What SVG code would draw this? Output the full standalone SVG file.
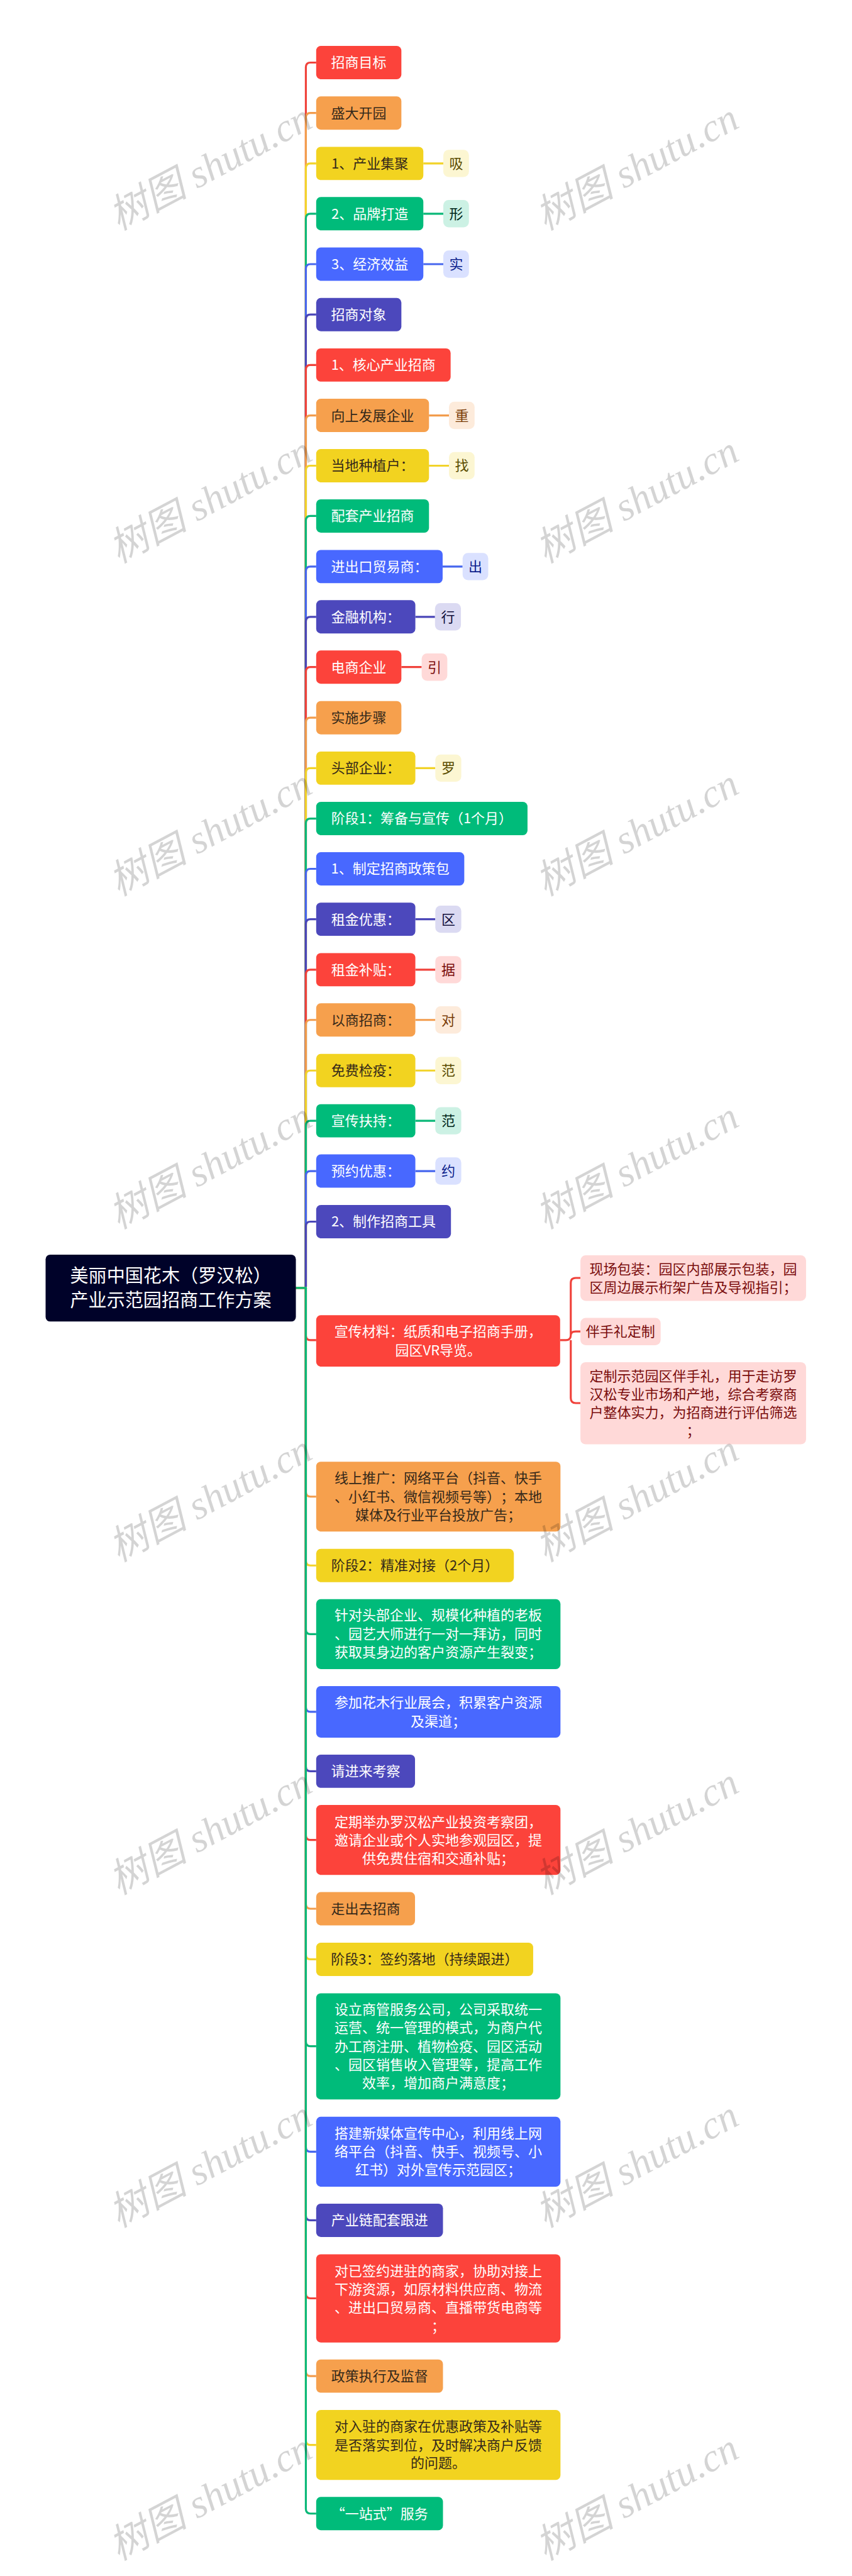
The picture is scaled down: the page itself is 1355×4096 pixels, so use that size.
<svg xmlns="http://www.w3.org/2000/svg" width="1355" height="4096" viewBox="0 0 1355 4096">
<style>
text{font-family:"Noto Sans CJK SC","Noto Sans",sans-serif;font-size:41.6px;text-anchor:middle;text-spacing-trim:space-all}
.con{fill:none;stroke-width:6}
.r{fill:#FC433B}.o{fill:#F6A04D}.y{fill:#F2D320}.g{fill:#00BB7A}.b{fill:#4868FF}.i{fill:#4C48BC}
.sr{stroke:#F0423B}.so{stroke:#F29C4C}.sy{stroke:#F2D32A}.sg{stroke:#0AB878}.sb{stroke:#4666EE}.si{stroke:#4A46B8}
.tw{fill:#fff}.td{fill:#35291a}
.tr{fill:#FFD9D8}.to{fill:#FDEBDB}.ty{fill:#FCF6D2}.tg{fill:#CCF1E4}.tb{fill:#DAE1FF}.ti{fill:#DBDAF2}
.lr{fill:#7a0c0c}.lo{fill:#7a3c08}.ly{fill:#5a4c00}.lg{fill:#00281a}.lb{fill:#0c1f8c}.li{fill:#12103c}
.wm{font-family:"Liberation Serif","Noto Sans CJK SC",serif;font-style:italic;font-size:119px;text-anchor:end;fill:#000;fill-opacity:.17}
.fw{font-feature-settings:"fwid"}
</style>
<rect width="1355" height="4096" fill="#fff"/>
<g transform="scale(0.529297)">
<g id="connectors">
<path class="con sr" d="M889 3869H919V202Q919 188 933 188H950"/>
<path class="con so" d="M889 3869H919V353.5Q919 339.5 933 339.5H950"/>
<path class="con sy" d="M889 3869H919V505Q919 491 933 491H950M1272 491H1332"/>
<path class="con sg" d="M889 3869H919V656Q919 642 933 642H950M1272 642H1332"/>
<path class="con sb" d="M889 3869H919V807.5Q919 793.5 933 793.5H950M1272 793.5H1332"/>
<path class="con si" d="M889 3869H919V959Q919 945 933 945H950"/>
<path class="con sr" d="M889 3869H919V1110.5Q919 1096.5 933 1096.5H950"/>
<path class="con so" d="M889 3869H919V1262Q919 1248 933 1248H950M1289 1248H1349"/>
<path class="con sy" d="M889 3869H919V1413Q919 1399 933 1399H950M1289 1399H1349"/>
<path class="con sg" d="M889 3869H919V1564Q919 1550 933 1550H950"/>
<path class="con sb" d="M889 3869H919V1716Q919 1702 933 1702H950M1330 1702H1390"/>
<path class="con si" d="M889 3869H919V1867Q919 1853 933 1853H950M1248 1853H1307"/>
<path class="con sr" d="M889 3869H919V2018Q919 2004 933 2004H950M1206 2004H1267"/>
<path class="con so" d="M889 3869H919V2170Q919 2156 933 2156H950"/>
<path class="con sy" d="M889 3869H919V2321.5Q919 2307.5 933 2307.5H950M1248 2307.5H1308"/>
<path class="con sg" d="M889 3869H919V2473Q919 2459 933 2459H950"/>
<path class="con sb" d="M889 3869H919V2624Q919 2610 933 2610H950"/>
<path class="con si" d="M889 3869H919V2775.5Q919 2761.5 933 2761.5H950M1248 2761.5H1308"/>
<path class="con sr" d="M889 3869H919V2927Q919 2913 933 2913H950M1248 2913H1308"/>
<path class="con so" d="M889 3869H919V3078Q919 3064 933 3064H950M1248 3064H1308"/>
<path class="con sy" d="M889 3869H919V3230Q919 3216 933 3216H950M1248 3216H1308"/>
<path class="con sg" d="M889 3869H919V3381Q919 3367 933 3367H950M1248 3367H1308"/>
<path class="con sb" d="M889 3869H919V3532Q919 3518 933 3518H950M1248 3518H1308"/>
<path class="con si" d="M889 3869H919V3684Q919 3670 933 3670H950"/>
<path class="con sr" d="M889 3869H919V4012Q919 4026 933 4026H950"/>
<path class="con sr" d="M1683 4026H1700Q1715 4026 1715 4011V3854Q1715 3839 1730 3839H1744M1715 4011Q1715 4000 1730 4000H1744M1715 4026V4200Q1715 4215 1730 4215H1744"/>
<path class="con so" d="M889 3869H919V4482Q919 4496 933 4496H950"/>
<path class="con sy" d="M889 3869H919V4689Q919 4703 933 4703H950"/>
<path class="con sg" d="M889 3869H919V4895Q919 4909 933 4909H950"/>
<path class="con sb" d="M889 3869H919V5128.5Q919 5142.5 933 5142.5H950"/>
<path class="con si" d="M889 3869H919V5307Q919 5321 933 5321H950"/>
<path class="con sr" d="M889 3869H919V5513.5Q919 5527.5 933 5527.5H950"/>
<path class="con so" d="M889 3869H919V5720Q919 5734 933 5734H950"/>
<path class="con sy" d="M889 3869H919V5872Q919 5886 933 5886H950"/>
<path class="con sg" d="M889 3869H919V6133Q919 6147 933 6147H950"/>
<path class="con sb" d="M889 3869H919V6450Q919 6464 933 6464H950"/>
<path class="con si" d="M889 3869H919V6656Q919 6670 933 6670H950"/>
<path class="con sr" d="M889 3869H919V6890.5Q919 6904.5 933 6904.5H950"/>
<path class="con so" d="M889 3869H919V7124Q919 7138 933 7138H950"/>
<path class="con sy" d="M889 3869H919V7331Q919 7345 933 7345H950"/>
<path class="con sg" d="M889 3869H919V7537Q919 7551 933 7551H950"/>
</g>
<g id="root"><rect x="137" y="3769" width="752" height="201" rx="14" fill="#000229"/><text x="513" y="3853" class="tw" style="font-size:55px">美丽中国花木（罗汉松）</text><text x="513" y="3926" class="tw" style="font-size:55px">产业示范园招商工作方案</text></g>
<g id="n0"><rect class="r" x="950" y="138" width="256" height="100" rx="14"/><text class="tw" x="1078" y="203">招商目标</text></g>
<g id="n1"><rect class="o" x="950" y="289.500" width="256" height="100" rx="14"/><text class="td" x="1078" y="354.500">盛大开园</text></g>
<g id="n2"><rect class="y" x="950" y="441" width="322" height="100" rx="14"/><text class="td" x="1111" y="506">1、产业集聚</text><rect class="ty" x="1332" y="450" width="77" height="82" rx="16"/><text class="ly" x="1370.500" y="506">吸</text></g>
<g id="n3"><rect class="g" x="950" y="592" width="322" height="100" rx="14"/><text class="tw" x="1111" y="657">2、品牌打造</text><rect class="tg" x="1332" y="601" width="77" height="82" rx="16"/><text class="lg" x="1370.500" y="657">形</text></g>
<g id="n4"><rect class="b" x="950" y="743.500" width="322" height="100" rx="14"/><text class="tw" x="1111" y="808.500">3、经济效益</text><rect class="tb" x="1332" y="752.500" width="77" height="82" rx="16"/><text class="lb" x="1370.500" y="808.500">实</text></g>
<g id="n5"><rect class="i" x="950" y="895" width="256" height="100" rx="14"/><text class="tw" x="1078" y="960">招商对象</text></g>
<g id="n6"><rect class="r" x="950" y="1046.500" width="404" height="100" rx="14"/><text class="tw" x="1152" y="1111.500">1、核心产业招商</text></g>
<g id="n7"><rect class="o" x="950" y="1198" width="339" height="100" rx="14"/><text class="td" x="1119.500" y="1263">向上发展企业</text><rect class="to" x="1349" y="1207" width="77" height="82" rx="16"/><text class="lo" x="1387.500" y="1263">重</text></g>
<g id="n8"><rect class="y" x="950" y="1349" width="339" height="100" rx="14"/><text class="td" x="1119.500" y="1414">当地种植户：</text><rect class="ty" x="1349" y="1358" width="77" height="82" rx="16"/><text class="ly" x="1387.500" y="1414">找</text></g>
<g id="n9"><rect class="g" x="950" y="1500" width="339" height="100" rx="14"/><text class="tw" x="1119.500" y="1565">配套产业招商</text></g>
<g id="n10"><rect class="b" x="950" y="1652" width="380" height="100" rx="14"/><text class="tw" x="1140" y="1717">进出口贸易商：</text><rect class="tb" x="1390" y="1661" width="77" height="82" rx="16"/><text class="lb" x="1428.500" y="1717">出</text></g>
<g id="n11"><rect class="i" x="950" y="1803" width="298" height="100" rx="14"/><text class="tw" x="1099" y="1868">金融机构：</text><rect class="ti" x="1307" y="1812" width="78" height="82" rx="16"/><text class="li" x="1346" y="1868">行</text></g>
<g id="n12"><rect class="r" x="950" y="1954" width="256" height="100" rx="14"/><text class="tw" x="1078" y="2019">电商企业</text><rect class="tr" x="1267" y="1963" width="77" height="82" rx="16"/><text class="lr" x="1305.500" y="2019">引</text></g>
<g id="n13"><rect class="o" x="950" y="2106" width="256" height="100" rx="14"/><text class="td" x="1078" y="2171">实施步骤</text></g>
<g id="n14"><rect class="y" x="950" y="2257.500" width="298" height="100" rx="14"/><text class="td" x="1099" y="2322.500">头部企业：</text><rect class="ty" x="1308" y="2266.500" width="78" height="82" rx="16"/><text class="ly" x="1347" y="2322.500">罗</text></g>
<g id="n15"><rect class="g" x="950" y="2409" width="635" height="100" rx="14"/><text class="tw" x="1267.500" y="2474">阶段1：筹备与宣传（1个月）</text></g>
<g id="n16"><rect class="b" x="950" y="2560" width="445" height="100" rx="14"/><text class="tw" x="1172.500" y="2625">1、制定招商政策包</text></g>
<g id="n17"><rect class="i" x="950" y="2711.500" width="298" height="100" rx="14"/><text class="tw" x="1099" y="2776.500">租金优惠：</text><rect class="ti" x="1308" y="2720.500" width="78" height="82" rx="16"/><text class="li" x="1347" y="2776.500">区</text></g>
<g id="n18"><rect class="r" x="950" y="2863" width="298" height="100" rx="14"/><text class="tw" x="1099" y="2928">租金补贴：</text><rect class="tr" x="1308" y="2872" width="78" height="82" rx="16"/><text class="lr" x="1347" y="2928">据</text></g>
<g id="n19"><rect class="o" x="950" y="3014" width="298" height="100" rx="14"/><text class="td" x="1099" y="3079">以商招商：</text><rect class="to" x="1308" y="3023" width="78" height="82" rx="16"/><text class="lo" x="1347" y="3079">对</text></g>
<g id="n20"><rect class="y" x="950" y="3166" width="298" height="100" rx="14"/><text class="td" x="1099" y="3231">免费检疫：</text><rect class="ty" x="1308" y="3175" width="78" height="82" rx="16"/><text class="ly" x="1347" y="3231">范</text></g>
<g id="n21"><rect class="g" x="950" y="3317" width="298" height="100" rx="14"/><text class="tw" x="1099" y="3382">宣传扶持：</text><rect class="tg" x="1308" y="3326" width="78" height="82" rx="16"/><text class="lg" x="1347" y="3382">范</text></g>
<g id="n22"><rect class="b" x="950" y="3468" width="298" height="100" rx="14"/><text class="tw" x="1099" y="3533">预约优惠：</text><rect class="tb" x="1308" y="3477" width="78" height="82" rx="16"/><text class="lb" x="1347" y="3533">约</text></g>
<g id="n23"><rect class="i" x="950" y="3620" width="405" height="100" rx="14"/><text class="tw" x="1152.500" y="3685">2、制作招商工具</text></g>
<g id="n24"><rect class="r" x="950" y="3951" width="733" height="154.500" rx="14"/><text class="tw" x="1316.500" y="4015.500">宣传材料：纸质和电子招商手册，</text><text class="tw" x="1316.500" y="4071">园区VR导览。</text></g>
<g id="c1"><rect class="tr" x="1744" y="3771" width="678" height="137" rx="16"/><text class="lr" x="2083" y="3827">现场包装：园区内部展示包装，园</text><text class="lr" x="2083" y="3882">区周边展示桁架广告及导视指引；</text></g>
<g id="c2"><rect class="tr" x="1744" y="3959" width="241" height="82" rx="16"/><text class="lr" x="1864.500" y="4015">伴手礼定制</text></g>
<g id="c3"><rect class="tr" x="1744" y="4092" width="678" height="247" rx="16"/><text class="lr" x="2083" y="4148">定制示范园区伴手礼，用于走访罗</text><text class="lr" x="2083" y="4203">汉松专业市场和产地，综合考察商</text><text class="lr" x="2083" y="4258">户整体实力，为招商进行评估筛选</text><text class="lr" x="2083" y="4313">；</text></g>
<g id="n25"><rect class="o" x="950" y="4391" width="734" height="210" rx="14"/><text class="td" x="1317" y="4455.500">线上推广：网络平台（抖音、快手</text><text class="td" x="1317" y="4511">、小红书、微信视频号等）；本地</text><text class="td" x="1317" y="4566.500">媒体及行业平台投放广告；</text></g>
<g id="n26"><rect class="y" x="950" y="4653" width="594" height="100" rx="14"/><text class="td" x="1247" y="4718">阶段2：精准对接（2个月）</text></g>
<g id="n27"><rect class="g" x="950" y="4804" width="734" height="210" rx="14"/><text class="tw" x="1317" y="4867.500">针对头部企业、规模化种植的老板</text><text class="tw" x="1317" y="4923">、园艺大师进行一对一拜访，同时</text><text class="tw" x="1317" y="4978.500">获取其身边的客户资源产生裂变；</text></g>
<g id="n28"><rect class="b" x="950" y="5065" width="734" height="155" rx="14"/><text class="tw" x="1317" y="5130">参加花木行业展会，积累客户资源</text><text class="tw" x="1317" y="5185.500">及渠道；</text></g>
<g id="n29"><rect class="i" x="950" y="5271" width="297" height="100" rx="14"/><text class="tw" x="1098.500" y="5336">请进来考察</text></g>
<g id="n30"><rect class="r" x="950" y="5422.500" width="734" height="210" rx="14"/><text class="tw" x="1317" y="5488">定期举办罗汉松产业投资考察团，</text><text class="tw" x="1317" y="5543">邀请企业或个人实地参观园区，提</text><text class="tw" x="1317" y="5598">供免费住宿和交通补贴；</text></g>
<g id="n31"><rect class="o" x="950" y="5684" width="297" height="100" rx="14"/><text class="td" x="1098.500" y="5749">走出去招商</text></g>
<g id="n32"><rect class="y" x="950" y="5836" width="652" height="100" rx="14"/><text class="td" x="1276" y="5901">阶段3：签约落地（持续跟进）</text></g>
<g id="n33"><rect class="g" x="950" y="5988" width="734" height="319" rx="14"/><text class="tw" x="1317" y="6052">设立商管服务公司，公司采取统一</text><text class="tw" x="1317" y="6107">运营、统一管理的模式，为商户代</text><text class="tw" x="1317" y="6162">办工商注册、植物检疫、园区活动</text><text class="tw" x="1317" y="6217.500">、园区销售收入管理等，提高工作</text><text class="tw" x="1317" y="6272">效率，增加商户满意度；</text></g>
<g id="n34"><rect class="b" x="950" y="6359" width="734" height="210" rx="14"/><text class="tw" x="1317" y="6423.500">搭建新媒体宣传中心，利用线上网</text><text class="tw" x="1317" y="6479">络平台（抖音、快手、视频号、小</text><text class="tw" x="1317" y="6534">红书）对外宣传示范园区；</text></g>
<g id="n35"><rect class="i" x="950" y="6620" width="381" height="100" rx="14"/><text class="tw" x="1140.500" y="6685">产业链配套跟进</text></g>
<g id="n36"><rect class="r" x="950" y="6772" width="734" height="265" rx="14"/><text class="tw" x="1317" y="6837">对已签约进驻的商家，协助对接上</text><text class="tw" x="1317" y="6892">下游资源，如原材料供应商、物流</text><text class="tw" x="1317" y="6947">、进出口贸易商、直播带货电商等</text><text class="tw" x="1317" y="7003">；</text></g>
<g id="n37"><rect class="o" x="950" y="7088" width="381" height="100" rx="14"/><text class="td" x="1140.500" y="7153">政策执行及监督</text></g>
<g id="n38"><rect class="y" x="950" y="7240" width="734" height="210" rx="14"/><text class="td" x="1317" y="7304">对入驻的商家在优惠政策及补贴等</text><text class="td" x="1317" y="7360">是否落实到位，及时解决商户反馈</text><text class="td" x="1317" y="7414">的问题。</text></g>
<g id="n39"><rect class="g" x="950" y="7501" width="381" height="100" rx="14"/><text class="tw fw" x="1140.500" y="7566">“一站式”服务</text></g>
<g id="watermarks">
<text class="wm" transform="translate(945 380) rotate(-28)">树图 shutu.cn</text>
<text class="wm" transform="translate(945 1380) rotate(-28)">树图 shutu.cn</text>
<text class="wm" transform="translate(945 2380) rotate(-28)">树图 shutu.cn</text>
<text class="wm" transform="translate(945 3380) rotate(-28)">树图 shutu.cn</text>
<text class="wm" transform="translate(945 4380) rotate(-28)">树图 shutu.cn</text>
<text class="wm" transform="translate(945 5380) rotate(-28)">树图 shutu.cn</text>
<text class="wm" transform="translate(945 6380) rotate(-28)">树图 shutu.cn</text>
<text class="wm" transform="translate(945 7380) rotate(-28)">树图 shutu.cn</text>
<text class="wm" transform="translate(2227 380) rotate(-28)">树图 shutu.cn</text>
<text class="wm" transform="translate(2227 1380) rotate(-28)">树图 shutu.cn</text>
<text class="wm" transform="translate(2227 2380) rotate(-28)">树图 shutu.cn</text>
<text class="wm" transform="translate(2227 3380) rotate(-28)">树图 shutu.cn</text>
<text class="wm" transform="translate(2227 4380) rotate(-28)">树图 shutu.cn</text>
<text class="wm" transform="translate(2227 5380) rotate(-28)">树图 shutu.cn</text>
<text class="wm" transform="translate(2227 6380) rotate(-28)">树图 shutu.cn</text>
<text class="wm" transform="translate(2227 7380) rotate(-28)">树图 shutu.cn</text>
</g>
</g>
</svg>
